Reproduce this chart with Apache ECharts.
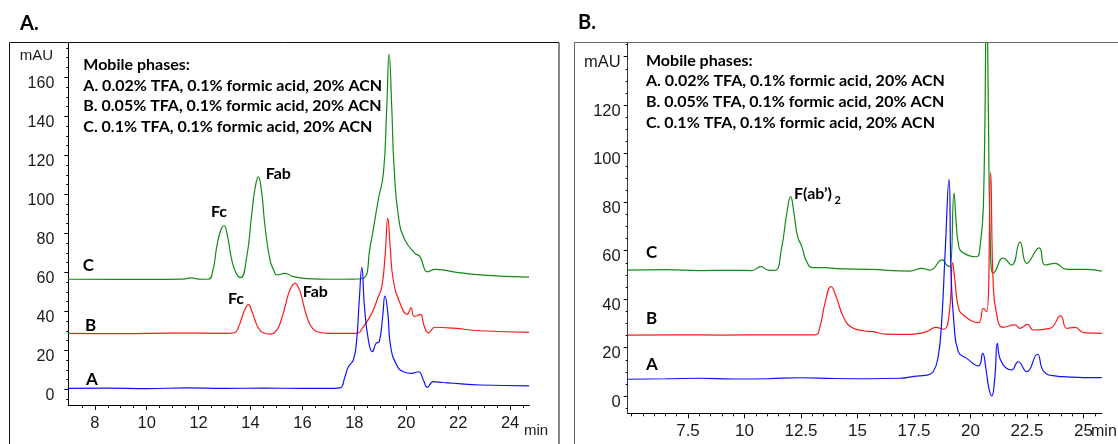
<!DOCTYPE html>
<html><head><meta charset="utf-8">
<script src="https://cdn.jsdelivr.net/npm/echarts@6/dist/echarts.min.js"></script>
<style>html,body{margin:0;padding:0;background:#fff}#c{width:1118px;height:444px}</style>
</head><body><div id="c"></div>
<script>
// ---------- Panel A data (min, mAU) ----------
const aA = [[6.98,0.6],[8.5,0.7],[10,0.5],[11.5,0.8],[13,0.6],[14.5,0.7],[16,0.6],[17.2,0.6],[17.45,0.8],[17.64,6.6],[17.77,11.7],[17.96,15.1],[18.09,25.4],[18.19,45.9],[18.29,62.4],[18.39,42.4],[18.54,25.4],[18.69,19.4],[18.84,23.7],[18.96,24.5],[19.09,37.3],[19.18,47.9],[19.29,39.0],[19.40,21.9],[19.63,12.6],[19.89,9.1],[20.21,8.3],[20.47,9.1],[20.66,4.9],[20.81,1.1],[21.04,4.0],[21.4,3.6],[21.82,3.2],[22.84,2.3],[24.73,1.9]];
const aB = [[6.98,28.8],[9,28.6],[11,28.9],[13.2,28.8],[13.4,29.2],[13.55,32.5],[13.66,36.5],[13.8,41.5],[13.92,43.6],[14.04,40.5],[14.17,35.6],[14.32,31.2],[14.49,29.1],[14.75,28.4],[15.01,30.5],[15.18,35.5],[15.33,42.4],[15.52,51.0],[15.72,54.4],[15.87,51.5],[15.97,47.5],[16.17,37.3],[16.42,30.8],[16.7,29.2],[16.94,28.8],[18.09,28.8],[18.35,32.2],[18.67,39.0],[18.92,47.5],[19.06,52.7],[19.18,68.0],[19.29,87.7],[19.38,73.2],[19.50,56.1],[19.76,44.2],[20.04,38.5],[20.18,42.0],[20.3,37.5],[20.42,37.8],[20.55,38.5],[20.69,32.5],[20.85,29.0],[21.11,31.9],[21.82,31.4],[22.84,30.1],[24.73,29.3]];
const aC = [[6.98,56.5],[9,56.4],[10.13,56.4],[11.4,56.6],[11.73,57.2],[12.0,56.6],[12.37,56.5],[12.55,61.0],[12.70,73.2],[12.85,81.5],[12.98,83.9],[13.1,79.5],[13.28,66.3],[13.45,59.5],[13.62,57.3],[13.85,67.5],[14.05,90.3],[14.18,103.5],[14.30,109.0],[14.42,102.0],[14.56,83.4],[14.75,66.3],[14.9,61.0],[15.01,58.7],[15.33,59.5],[15.65,57.8],[16.2,56.8],[17.06,56.5],[18.0,56.6],[18.35,57.0],[18.61,73.2],[18.92,97.1],[19.12,110.8],[19.25,144.9],[19.34,171.9],[19.44,144.9],[19.53,114.1],[19.70,88.5],[19.95,76.6],[20.34,69.8],[20.53,68.0],[20.72,61.2],[20.81,60.3],[21.11,61.6],[21.82,60.3],[22.84,58.7],[24.73,57.6]];
// ---------- Panel B data ----------
const bA = [[4.83,7.0],[6.5,7.2],[8.0,7.4],[9.5,7.1],[11.0,7.2],[12.5,7.6],[14.0,7.3],[15.5,7.2],[16.88,7.4],[17.5,8.2],[18.06,8.7],[18.35,10.1],[18.57,16.3],[18.72,30.1],[18.87,57.5],[19.05,89.4],[19.14,50.7],[19.27,30.1],[19.46,18.4],[19.83,15.6],[20.35,12.5],[20.54,17.7],[20.69,10.8],[20.82,3.0],[20.94,0.1],[21.08,8.0],[21.19,21.8],[21.33,14.9],[21.82,10.8],[22.11,14.2],[22.49,10.1],[22.96,17.3],[23.25,10.1],[23.81,8.3],[24.26,8.0],[25.0,7.7],[25.81,7.7]];
const bB = [[4.83,25.2],[7,25.3],[9,25.2],[11,25.3],[13.12,25.3],[13.34,28.7],[13.56,38.3],[13.83,45.2],[14.08,40.4],[14.37,32.8],[14.74,28.4],[15.26,27.0],[15.70,26.6],[16.21,25.6],[17.32,25.5],[18.06,26.6],[18.47,28.4],[18.8,27.6],[19.06,34.2],[19.21,55.1],[19.31,47.9],[19.46,36.9],[19.68,33.5],[20.35,30.3],[20.57,36.2],[20.72,34.8],[20.89,92.2],[21.0,47.9],[21.15,34.2],[21.45,28.4],[21.97,29.4],[22.19,28.0],[22.53,29.6],[22.78,27.3],[23.52,28.0],[23.99,33.1],[24.26,28.0],[24.63,28.4],[25.0,26.2],[25.81,25.9]];
const bC = [[4.83,52.0],[6.5,52.2],[8,51.8],[9.5,51.9],[10.32,51.8],[10.73,53.4],[11.05,52.0],[11.35,51.9],[11.65,61.6],[11.87,75.4],[12.04,82.3],[12.19,75.4],[12.35,65.8],[12.53,61.9],[12.75,55.5],[13.04,53.0],[13.56,53.0],[14.08,52.6],[15.55,52.3],[17.32,51.6],[17.84,52.7],[18.21,52.0],[18.75,56.2],[18.95,54.1],[19.09,53.4],[19.27,83.7],[19.36,72.7],[19.46,63.0],[19.61,59.6],[20.27,57.5],[20.42,61.6],[20.57,78.1],[20.72,165],[20.79,119.4],[20.86,71.3],[20.98,50.7],[21.08,51.3],[21.45,56.9],[21.82,54.1],[22.19,63.5],[22.49,54.8],[23.04,61.2],[23.30,54.1],[23.74,54.8],[24.26,52.3],[25.14,52.3],[25.81,51.6]];
// ---------- ticks ----------
const xTicksA = [8,10,12,14,16,18,20,22,24];
const yTicksA = [0,20,40,60,80,100,120,140,160];
const xTicksB = [7.5,10,12.5,15,17.5,20,22.5,25];
const yTicksB = [0,20,40,60,80,100,120,140];
const legendLines = ['Mobile phases:','A. 0.02% TFA, 0.1% formic acid, 20% ACN','B. 0.05% TFA, 0.1% formic acid, 20% ACN','C. 0.1% TFA, 0.1% formic acid, 20% ACN'];

function range(a,b,s,skip){const r=[];for(let v=a;v<=b+1e-9;v+=s){const q=Math.round(v*100)/100;if(!skip||skip.indexOf(q)<0)r.push(q);}return r;}
const xMinorA = range(7.5,24.5,0.5,xTicksA);
const yMinorA = range(-5,175,5,yTicksA);
const xMinorB = range(5,25.5,0.5,xTicksB);
const yMinorB = range(-5,145,5,yTicksB);

const TF = 'Liberation Sans, Arial, sans-serif';
const BF = 'Lato, sans-serif';
const G = {A:{min:6.98,max:24.74,ymin:-7.94,ymax:177.7},B:{min:4.832,max:25.82,ymin:-7.05,ymax:145.77}};

function xMajor(grid,p,ticks,fs){return {type:'value',gridIndex:grid,min:p.min,max:p.max,
  axisLine:{show:true,onZero:false,lineStyle:{color:'#000',width:1}},
  axisTick:{show:true,customValues:ticks,length:5,lineStyle:{color:'#000'}},
  axisLabel:{show:true,customValues:ticks,margin:10,fontFamily:TF,fontSize:fs,color:'#1a1a1a'},
  splitLine:{show:false}};}
function xMinor(grid,p,ticks){return {type:'value',gridIndex:grid,min:p.min,max:p.max,position:'bottom',
  axisLine:{show:false,onZero:false},axisTick:{show:true,customValues:ticks,length:3,lineStyle:{color:'#000'}},
  axisLabel:{show:false},splitLine:{show:false}};}
function yMajor(grid,p,ticks,fs,margin,fmt,col){return {type:'value',gridIndex:grid,min:p.min,max:p.ymax,
  axisLine:{show:true,onZero:false,lineStyle:{color:col,width:1}},
  axisTick:{show:true,customValues:ticks,length:4,lineStyle:{color:'#000'}},
  axisLabel:{show:true,customValues:ticks,margin:margin,fontFamily:TF,fontSize:fs,color:'#1a1a1a',
    verticalAlign:'top',lineHeight:12,formatter:fmt},
  splitLine:{show:false}};}
function yMinor(grid,p,ticks){return {type:'value',gridIndex:grid,min:p.ymin,max:p.ymax,position:'left',
  axisLine:{show:false,onZero:false},axisTick:{show:true,customValues:ticks,length:2,lineStyle:{color:'#000'}},
  axisLabel:{show:false},splitLine:{show:false}};}

function line(data,color,xi,yi){return {type:'line',data:data,xAxisIndex:xi,yAxisIndex:yi,showSymbol:false,symbol:'none',
  smooth:0.5,clip:true,lineStyle:{color:color,width:1.2},silent:true};}

const GREEN='#138a13', RED='#ff1a1a', BLUE='#1010ff';

function txt(x,y,s,size,align,extra){return Object.assign({type:'text',x:x,y:y,silent:true,
  style:{text:s,font:'bold '+size+'px '+BF,fill:'#000',align:align||'left',verticalAlign:'middle'}},extra||{});}

const graphics = [
  {type:'rect',shape:{x:9.5,y:42.5,width:549.5,height:430},style:{fill:'none',stroke:'#111',lineWidth:1},silent:true,z:-1},
  {type:'rect',shape:{x:574.5,y:42.5,width:600,height:430},style:{fill:'none',stroke:'#666',lineWidth:1},silent:true,z:-1},
  txt(20,24,'A.',20),
  txt(578,23,'B.',20),
  {type:'text',x:53,y:56,style:{text:'mAU',font:'15px '+TF,fill:'#1a1a1a',align:'right',verticalAlign:'middle'},silent:true},
  {type:'text',x:524,y:431,style:{text:'min',font:'15px '+TF,fill:'#1a1a1a',align:'left',verticalAlign:'middle'},silent:true},
  {type:'text',x:1091,y:432,style:{text:'min',font:'16px '+TF,fill:'#1a1a1a',align:'left',verticalAlign:'middle'},silent:true},
  txt(82.7,266,'C',17), txt(85,326,'B',17), txt(86,380,'A',17),
  txt(219,212,'Fc',16,'center'), txt(265.7,174,'Fab',16),
  txt(236,299,'Fc',16,'center'), txt(302.7,292,'Fab',16),
  txt(646,253,'C',17), txt(646,318.5,'B',17), txt(646,365,'A',17),
  txt(794,194,'F(ab’)',16), txt(834.5,200,'2',11)
];
const legYA=[65,85.5,106,126.5], legYB=[60.7,81.3,101.9,122.5];
legendLines.forEach((s,i)=>{graphics.push(txt(83.3,legYA[i],s,16));graphics.push(txt(646,legYB[i],s,16));});

const option = {
  animation:false,
  grid:[{left:68.3,top:42.7,width:461,height:362.3,containLabel:false},
        {left:627.7,top:42.7,width:474.3,height:370.6,containLabel:false}],
  xAxis:[xMajor(0,G.A,xTicksA,16.5),xMinor(0,G.A,xMinorA),xMajor(1,G.B,xTicksB,17),xMinor(1,G.B,xMinorB)],
  yAxis:[yMajor(0,{min:G.A.ymin,ymax:G.A.ymax},yTicksA,16,14,v=>String(v),'#000'),yMinor(0,G.A,yMinorA),
         yMajor(1,{min:G.B.ymin,ymax:G.B.ymax},yTicksB,16.5,7,v=>v===140?'mAU':String(v),'#333'),yMinor(1,G.B,yMinorB)],
  series:[line(aC,GREEN,0,0),line(aB,RED,0,0),line(aA,BLUE,0,0),
          line(bC,GREEN,2,2),line(bB,RED,2,2),line(bA,BLUE,2,2)],
  graphic:graphics
};
const chart = echarts.init(document.getElementById('c'),null,{renderer:'canvas'});
chart.setOption(option);
</script></body></html>
